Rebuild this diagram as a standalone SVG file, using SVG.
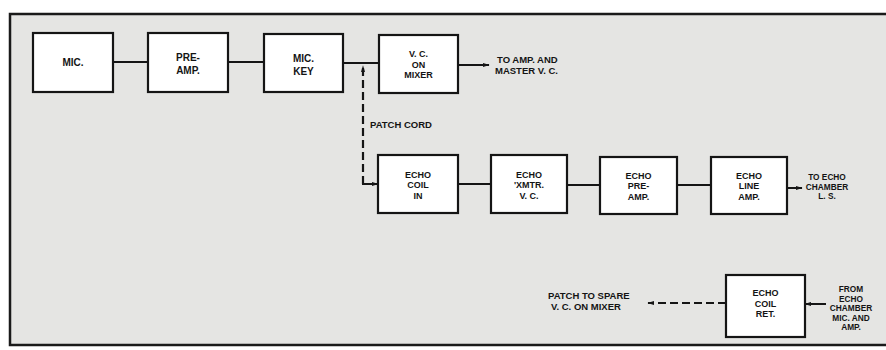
<svg xmlns="http://www.w3.org/2000/svg" width="886" height="350" viewBox="0 0 886 350">
<defs>
<style>
.box{fill:#fff;stroke:#151515;stroke-width:2.2}
.t{font-family:"Liberation Sans",Arial,sans-serif;font-weight:bold;font-size:10px;fill:#141414;text-anchor:middle}
.t3{font-family:"Liberation Sans",Arial,sans-serif;font-weight:bold;font-size:9px;fill:#141414;text-anchor:middle}
.s{font-family:"Liberation Sans",Arial,sans-serif;font-weight:bold;font-size:9.5px;fill:#141414}
.r{font-family:"Liberation Sans",Arial,sans-serif;font-weight:bold;font-size:8.3px;fill:#141414;text-anchor:middle}
.ln{stroke:#151515;stroke-width:2;fill:none}
.dash{stroke:#151515;stroke-width:2.2;fill:none;stroke-dasharray:8 4}
</style>
<marker id="ah" viewBox="0 0 10 8" refX="9" refY="4" markerWidth="7" markerHeight="5.5" orient="auto" markerUnits="userSpaceOnUse">
<path d="M0,1 L10,4 L0,7 Z" fill="#151515"/>
</marker>
</defs>
<rect x="0" y="0" width="886" height="350" fill="#ffffff"/>
<rect x="10" y="14" width="880" height="331" fill="#e5e5e3" stroke="#1a1a1a" stroke-width="2.5"/>

<g id="connectors">
<line class="ln" x1="113" y1="62" x2="148" y2="62"/>
<line class="ln" x1="228" y1="62" x2="264" y2="62"/>
<line class="ln" x1="343" y1="63" x2="379" y2="63"/>
<line class="ln" x1="458" y1="65" x2="489" y2="65" marker-end="url(#ah)"/>
<path class="dash" d="M363,184 L363,66" marker-end="url(#ah)"/>
<line class="ln" x1="362" y1="184" x2="378" y2="184" marker-end="url(#ah)"/>
<line class="ln" x1="458" y1="184" x2="491" y2="184"/>
<line class="ln" x1="567" y1="185" x2="600" y2="185"/>
<line class="ln" x1="677" y1="185" x2="711" y2="185"/>
<line class="ln" x1="787" y1="188" x2="802" y2="188" marker-end="url(#ah)"/>
<path class="dash" d="M726,303 L648,303" marker-end="url(#ah)"/>
<line class="ln" x1="826" y1="304" x2="805" y2="304" marker-end="url(#ah)"/>
</g>

<g id="labels">
<text class="s" x="370" y="128">PATCH CORD</text>
<text class="s" x="497" y="63">TO AMP. AND</text>
<text class="s" x="495" y="73.5">MASTER V. C.</text>
<text class="r" x="827" y="180">TO  ECHO</text>
<text class="r" x="827" y="189.5">CHAMBER</text>
<text class="r" x="827" y="199">L. S.</text>
<text class="s" x="548" y="298.5">PATCH TO SPARE</text>
<text class="s" x="551" y="310">V. C. ON MIXER</text>
<text class="r" x="851" y="292">FROM</text>
<text class="r" x="851" y="301.5">ECHO</text>
<text class="r" x="851" y="311">CHAMBER</text>
<text class="r" x="851" y="320.5">MIC. AND</text>
<text class="r" x="851" y="330">AMP.</text>
</g>

<g id="mic">
<rect class="box" x="33" y="33" width="80" height="59"/>
<text class="t" x="73" y="66">MIC.</text>
</g>
<g id="preamp">
<rect class="box" x="148" y="33" width="80" height="59"/>
<text class="t" x="188" y="61">PRE-</text>
<text class="t" x="188" y="74">AMP.</text>
</g>
<g id="mickey">
<rect class="box" x="264" y="34" width="79" height="58"/>
<text class="t" x="303.5" y="62">MIC.</text>
<text class="t" x="303.5" y="75">KEY</text>
</g>
<g id="vc-mixer">
<rect class="box" x="379" y="35" width="79" height="58"/>
<text class="t3" x="418.5" y="57">V. C.</text>
<text class="t3" x="418.5" y="67.5">ON</text>
<text class="t3" x="418.5" y="78">MIXER</text>
</g>
<g id="echo-coil-in">
<rect class="box" x="378" y="155" width="80" height="58"/>
<text class="t3" x="418" y="177.5">ECHO</text>
<text class="t3" x="418" y="188">COIL</text>
<text class="t3" x="418" y="198.5">IN</text>
</g>
<g id="echo-xmtr">
<rect class="box" x="491" y="155" width="76" height="58"/>
<text class="t3" x="529" y="177.5">ECHO</text>
<text class="t3" x="529" y="188">'XMTR.</text>
<text class="t3" x="529" y="198.5">V. C.</text>
</g>
<g id="echo-preamp">
<rect class="box" x="600" y="157" width="77" height="57"/>
<text class="t3" x="638.5" y="178.5">ECHO</text>
<text class="t3" x="638.5" y="189">PRE-</text>
<text class="t3" x="638.5" y="199.5">AMP.</text>
</g>
<g id="echo-line-amp">
<rect class="box" x="711" y="157" width="76" height="57"/>
<text class="t3" x="749" y="178.5">ECHO</text>
<text class="t3" x="749" y="189">LINE</text>
<text class="t3" x="749" y="199.5">AMP.</text>
</g>
<g id="echo-coil-ret">
<rect class="box" x="726" y="275" width="79" height="62"/>
<text class="t3" x="765.5" y="296">ECHO</text>
<text class="t3" x="765.5" y="306.5">COIL</text>
<text class="t3" x="765.5" y="317">RET.</text>
</g>
</svg>
